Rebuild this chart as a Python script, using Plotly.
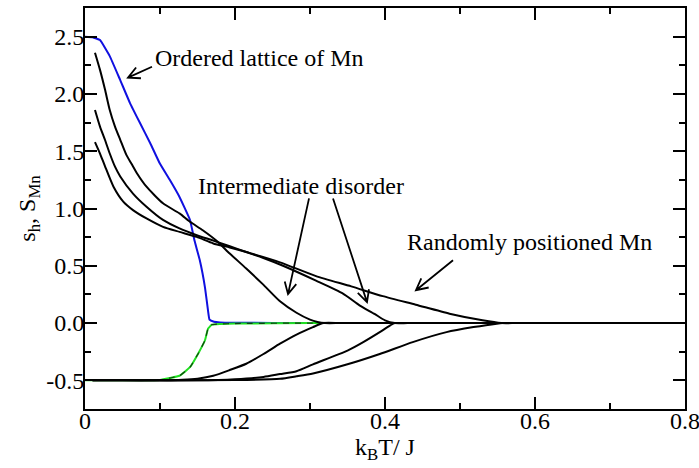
import math
import plotly.graph_objects as go

# ---------------- data ----------------
# Ordered lattice of Mn: upper branch (blue) and lower branch (green)
T_ord_up = [0.0, 0.01, 0.02, 0.033, 0.047, 0.06, 0.073, 0.087, 0.1, 0.113, 0.126,
            0.14, 0.146, 0.153, 0.16, 0.164, 0.166, 0.172, 0.18, 0.2, 0.3, 0.4, 0.6, 0.8]
s_ord_up = [2.5, 2.495, 2.47, 2.33, 2.12, 1.92, 1.75, 1.57, 1.39, 1.25, 1.10,
            0.90, 0.72, 0.55, 0.31, 0.11, 0.03, 0.012, 0.006, 0.003, 0.0, 0.0, 0.0, 0.0]
T_ord_lo = [0.0, 0.05, 0.1, 0.113, 0.126, 0.14, 0.151, 0.16, 0.164, 0.169, 0.18, 0.2, 0.3,
            0.4, 0.6, 0.8]
s_ord_lo = [-0.5, -0.5, -0.497, -0.48, -0.46, -0.385, -0.265, -0.15, -0.05, -0.014,
            -0.008, -0.004, 0.0, 0.0, 0.0, 0.0]

# Intermediate disorder (1)
T_a_up = [0.0133, 0.02, 0.0266, 0.033, 0.04, 0.047, 0.055, 0.062, 0.069, 0.082, 0.104,
          0.126, 0.14, 0.157, 0.175, 0.193, 0.215, 0.237, 0.26, 0.282, 0.3, 0.31, 0.32,
          0.34, 0.38, 0.5, 0.8]
s_a_up = [2.36, 2.21, 2.04, 1.86, 1.715, 1.6, 1.47, 1.39, 1.31, 1.19, 1.045,
          0.957, 0.884, 0.81, 0.72, 0.607, 0.476, 0.34, 0.19, 0.09, 0.03, 0.01, 0.0,
          0.0, 0.0, 0.0, 0.0]
T_a_lo = [0.01, 0.05, 0.1, 0.13, 0.15, 0.171, 0.193, 0.215, 0.238, 0.26, 0.282, 0.304, 0.318,
          0.34, 0.38, 0.5, 0.8]
s_a_lo = [-0.5, -0.5, -0.5, -0.495, -0.485, -0.46, -0.41, -0.355, -0.27, -0.18, -0.1, -0.035, 0.0,
          0.0, 0.0, 0.0, 0.0]

# Intermediate disorder (2)
T_b_up = [0.0133, 0.02, 0.0266, 0.033, 0.04, 0.047, 0.064, 0.082, 0.104, 0.126, 0.149,
          0.171, 0.193, 0.215, 0.237, 0.264, 0.308, 0.344, 0.366, 0.386, 0.40, 0.413,
          0.43, 0.47, 0.6, 0.8]
s_b_up = [1.86, 1.715, 1.6, 1.48, 1.365, 1.28, 1.13, 1.015, 0.90, 0.826, 0.767,
          0.72, 0.67, 0.62, 0.57, 0.50, 0.37, 0.257, 0.155, 0.08, 0.024, 0.0,
          0.0, 0.0, 0.0, 0.0]
T_b_lo = [0.01, 0.08, 0.15, 0.2, 0.238, 0.26, 0.282, 0.304, 0.35, 0.371, 0.393, 0.407, 0.413,
          0.43, 0.47, 0.6, 0.8]
s_b_lo = [-0.5, -0.5, -0.5, -0.49, -0.47, -0.445, -0.42, -0.36, -0.24, -0.166, -0.079, -0.02, 0.0,
          0.0, 0.0, 0.0, 0.0]

# Randomly positioned Mn
T_c_up = [0.0133, 0.02, 0.0266, 0.038, 0.051, 0.064, 0.082, 0.104, 0.126, 0.149, 0.171,
          0.193, 0.215, 0.26, 0.308, 0.355, 0.397, 0.441, 0.486, 0.53, 0.555,
          0.575, 0.62, 0.7, 0.8]
s_c_up = [1.58, 1.48, 1.37, 1.19, 1.06, 0.986, 0.913, 0.84, 0.796, 0.752, 0.695,
          0.66, 0.62, 0.53, 0.41, 0.32, 0.235, 0.16, 0.082, 0.024, 0.0,
          0.0, 0.0, 0.0, 0.0]
T_c_lo = [0.01, 0.1, 0.2, 0.26, 0.282, 0.304, 0.35, 0.393, 0.437, 0.482, 0.518, 0.549, 0.557,
          0.575, 0.62, 0.7, 0.8]
s_c_lo = [-0.5, -0.5, -0.497, -0.487, -0.465, -0.44, -0.36, -0.27, -0.166, -0.079, -0.035, -0.005, 0.0,
          0.0, 0.0, 0.0, 0.0]

x_tickvals = [0, 0.2, 0.4, 0.6, 0.8]
x_ticktext = ["0", "0.2", "0.4", "0.6", "0.8"]
y_tickvals = [-0.5, 0.0, 0.5, 1.0, 1.5, 2.0, 2.5]
y_ticktext = ["-0.5", "0.0", "0.5", "1.0", "1.5", "2.0", "2.5"]

# annotation labels: (text, x, y) and arrows: (tail x, tail y, tip x, tip y)
labels = [("Ordered lattice of Mn", 0.0907, 2.316),
          ("Intermediate disorder", 0.148, 1.193),
          ("Randomly positioned Mn", 0.4267, 0.705)]
arrows = [(0.0893, 2.237, 0.0573, 2.142),
          (0.2987, 1.088, 0.2707, 0.2525),
          (0.3307, 1.088, 0.376, 0.183),
          (0.4907, 0.5485, 0.4413, 0.287)]

X_RANGE = [0, 0.8]
Y_RANGE = [-0.75, 2.75]
ML, MR, MT, MB = 85, 14, 8, 59
W, H = 699, 468

FONT = "Liberation Serif, Times New Roman, serif"

fig = go.Figure()

# ordered lattice (coloured with dark dashes on top)
fig.add_trace(go.Scatter(x=T_ord_up, y=s_ord_up, mode="lines",
                         line=dict(color="#1010e0", width=2, shape="spline", smoothing=0.3),
                         showlegend=False))
fig.add_trace(go.Scatter(x=T_ord_lo, y=s_ord_lo, mode="lines",
                         line=dict(color="#20e020", width=2, shape="spline", smoothing=0.3),
                         showlegend=False))
fig.add_trace(go.Scatter(x=T_ord_lo, y=s_ord_lo, mode="lines",
                         line=dict(color="#104010", width=1.2, dash="6px,6px",
                                   shape="spline", smoothing=0.3),
                         showlegend=False))

for xs, ys in [(T_a_up, s_a_up), (T_a_lo, s_a_lo), (T_b_up, s_b_up), (T_b_lo, s_b_lo),
               (T_c_up, s_c_up), (T_c_lo, s_c_lo)]:
    fig.add_trace(go.Scatter(x=xs, y=ys, mode="lines",
                             line=dict(color="black", width=2, shape="spline", smoothing=0.6),
                             showlegend=False))

# ---- arrows with open V heads ----
pw = W - ML - MR
ph = H - MT - MB
sx = pw / (X_RANGE[1] - X_RANGE[0])
sy = ph / (Y_RANGE[1] - Y_RANGE[0])
head_len = 13
ang = math.radians(27)
for (x0, y0, x1, y1) in arrows:
    dx = (x1 - x0) * sx
    dy = (y1 - y0) * sy
    L = math.hypot(dx, dy)
    ux, uy = dx / L, dy / L
    pts = []
    for s in (ang, -ang):
        rx = -(ux * math.cos(s) - uy * math.sin(s))
        ry = -(ux * math.sin(s) + uy * math.cos(s))
        pts.append((x1 + rx * head_len / sx, y1 + ry * head_len / sy))
    path = (f"M {x0},{y0} L {x1},{y1} "
            f"M {pts[0][0]},{pts[0][1]} L {x1},{y1} L {pts[1][0]},{pts[1][1]}")
    fig.add_shape(type="path", path=path, xref="x", yref="y",
                  line=dict(color="black", width=1.8))

for text, x, y in labels:
    fig.add_annotation(x=x, y=y, xref="x", yref="y", text=text, showarrow=False,
                       xanchor="left", yanchor="middle",
                       font=dict(family=FONT, size=24, color="black"))

axis_common = dict(showline=True, linecolor="black", linewidth=2, mirror="ticks",
                   ticks="inside", ticklen=12, tickwidth=1.5, tickcolor="black",
                   showgrid=False, zeroline=False, automargin=False,
                   ticklabeloverflow="allow",
                   tickfont=dict(family=FONT, size=24, color="black"))

fig.update_xaxes(range=X_RANGE, tickmode="array", tickvals=x_tickvals, ticktext=x_ticktext,
                 ticklabelstandoff=-11,
                 minor=dict(tickmode="linear", tick0=0, dtick=0.1, ticks="inside",
                            ticklen=6, tickwidth=1.5, tickcolor="black"),
                 title=dict(text="k<sub>B</sub>T/ J", font=dict(family=FONT, size=24, color="black"),
                            standoff=0),
                 **axis_common)
fig.update_yaxes(range=Y_RANGE, tickmode="array", tickvals=y_tickvals, ticktext=y_ticktext,
                 ticklabelstandoff=-6,
                 minor=dict(tickmode="linear", tick0=0, dtick=0.25, ticks="inside",
                            ticklen=6, tickwidth=1.5, tickcolor="black"),
                 title=dict(text="s<sub>h</sub>, S<sub>Mn</sub>",
                            font=dict(family=FONT, size=24, color="black"), standoff=4),
                 **axis_common)

fig.update_layout(width=W, height=H, margin=dict(l=ML, r=MR, t=MT, b=MB),
                  paper_bgcolor="white", plot_bgcolor="white",
                  font=dict(family=FONT, color="black"))

fig.write_html("out.html", config={"displayModeBar": False},
               post_script="document.body.style.margin='0';document.body.style.padding='0';"
                           "document.body.style.overflow='hidden';")
